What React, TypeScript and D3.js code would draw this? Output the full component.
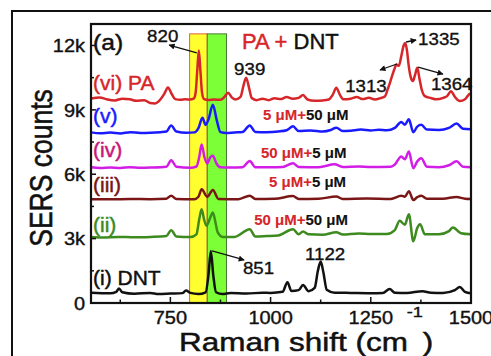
import React from "react";
import * as d3 from "d3";

const W = 491;
const H = 356;
const PLOT = { left: 91, top: 24, right: 471, bottom: 303 };

const xDomain = [552, 1500];
const yDomain = [0, 13000];
const xTicks = [750, 1000, 1250, 1500];
const xMinorTicks = [625, 875, 1125, 1375];
const yTicks = [0, 3000, 6000, 9000, 12000];
const yTickLabels = ["0", "3k", "6k", "9k", "12k"];
const yMinorTicks = [1500, 4500, 7500, 10500];

const bandPA = [798, 842];
const bandDNT = [842, 890];
const bandTop = 12540;

const seriesPA: [number, number][] = [
  [552, 9530], [574, 9580], [590, 9500], [612, 9440], [630, 9520], [649, 9490], [665, 9420],
  [685, 9450], [699, 9320], [712, 9300], [725, 9480], [735, 9750], [744, 10040], [753, 9750],
  [762, 9500], [775, 9470], [787, 9490], [799, 9480], [808, 9520], [813, 9800], [817, 10800],
  [821, 11760], [825, 10800], [829, 9800], [834, 9500], [845, 9460], [860, 9480], [875, 9470],
  [885, 9600], [894, 9800], [903, 9580], [912, 9480], [925, 9600], [932, 10100], [939, 10500],
  [946, 10050], [953, 9550], [965, 9450], [980, 9520], [995, 9450], [1010, 9540], [1025, 9500],
  [1040, 9600], [1055, 9520], [1070, 9560], [1081, 9690], [1092, 9480], [1110, 9420], [1130, 9440],
  [1145, 9480], [1155, 9700], [1164, 10030], [1173, 9700], [1182, 9490], [1200, 9520], [1215, 9600],
  [1230, 9500], [1245, 9560], [1260, 9480], [1275, 9550], [1285, 9620], [1293, 10000], [1302, 10510],
  [1309, 10900], [1314, 11110], [1320, 11050], [1326, 11500], [1332, 12000], [1336, 12120],
  [1340, 11800], [1345, 11000], [1350, 10500], [1355, 10340], [1360, 10600], [1366, 10960],
  [1371, 10500], [1377, 9950], [1385, 9640], [1400, 9550], [1413, 9490], [1431, 9560], [1441, 9650],
  [1450, 9870], [1460, 9600], [1472, 9410], [1485, 9490], [1492, 9650], [1497, 9750], [1500, 9700],
];

const seriesV: [number, number][] = [
  [552, 7950], [575, 7910], [600, 7940], [625, 7900], [650, 7960], [675, 7920], [700, 7930],
  [725, 7960], [740, 7990], [752, 8270], [765, 7990], [790, 7930], [810, 7950], [820, 8150],
  [830, 8630], [838, 8300], [845, 8550], [856, 9240], [866, 8500], [875, 7960], [890, 7920],
  [910, 7950], [930, 7970], [948, 8270], [962, 7970], [990, 7960], [1019, 7990], [1040, 8050],
  [1056, 8230], [1070, 8010], [1100, 8040], [1130, 7990], [1150, 8060], [1164, 8170], [1180, 8010],
  [1200, 8030], [1225, 8080], [1250, 8040], [1270, 8070], [1290, 8050], [1310, 8160], [1326, 8430],
  [1335, 8310], [1345, 8560], [1356, 7960], [1366, 8220], [1376, 8300], [1390, 8080], [1420, 8060],
  [1445, 8160], [1464, 8360], [1480, 8120], [1500, 8100],
];

const seriesIV: [number, number][] = [
  [552, 6320], [575, 6290], [600, 6310], [625, 6290], [650, 6330], [675, 6300], [700, 6310],
  [740, 6350], [752, 6650], [765, 6350], [800, 6300], [815, 6360], [822, 6800], [828, 7390],
  [835, 6800], [842, 6500], [850, 6800], [856, 6860], [865, 6500], [875, 6320], [900, 6310],
  [930, 6330], [948, 6620], [962, 6330], [1000, 6320], [1030, 6340], [1056, 6510], [1070, 6340],
  [1120, 6330], [1160, 6460], [1180, 6340], [1220, 6360], [1250, 6340], [1300, 6350], [1310, 6450],
  [1326, 6830], [1335, 6700], [1345, 7060], [1356, 6280], [1366, 6600], [1376, 6740], [1390, 6350],
  [1420, 6330], [1445, 6420], [1464, 6600], [1480, 6350], [1500, 6330],
];

const seriesIII: [number, number][] = [
  [552, 4840], [600, 4830], [650, 4850], [700, 4840], [740, 4860], [752, 5000], [765, 4850],
  [810, 4840], [820, 4950], [828, 5300], [842, 4950], [856, 5260], [870, 4850], [920, 4840],
  [948, 5000], [962, 4850], [1010, 4860], [1056, 4980], [1070, 4850], [1120, 4860], [1164, 4960],
  [1180, 4850], [1240, 4870], [1300, 4850], [1326, 5000], [1335, 4950], [1345, 5210], [1356, 4800],
  [1366, 4930], [1376, 5000], [1390, 4860], [1430, 4860], [1464, 4940], [1485, 4860], [1500, 4850],
];

const seriesII: [number, number][] = [
  [552, 3070], [580, 3050], [620, 3080], [660, 3060], [700, 3080], [740, 3120], [752, 3390],
  [765, 3100], [800, 3070], [815, 3200], [822, 3900], [828, 4370], [834, 3900], [840, 3600],
  [848, 3900], [856, 4220], [862, 3800], [868, 3300], [880, 3080], [910, 3080], [948, 3440],
  [962, 3100], [990, 3120], [1019, 3150], [1056, 3440], [1070, 3200], [1081, 3330], [1095, 3200],
  [1130, 3180], [1164, 3300], [1180, 3190], [1220, 3240], [1250, 3220], [1290, 3220], [1310, 3400],
  [1322, 3830], [1335, 3650], [1345, 4140], [1356, 2880], [1366, 3500], [1373, 3670], [1385, 3200],
  [1420, 3200], [1445, 3350], [1455, 3520], [1475, 3250], [1500, 3200],
];

const seriesDNT: [number, number][] = [
  [552, 480], [580, 460], [600, 450], [615, 520], [622, 680], [630, 500], [660, 430], [700, 470],
  [720, 420], [750, 440], [780, 460], [789, 580], [800, 470], [820, 420], [838, 500], [845, 1300],
  [851, 2420], [857, 1300], [864, 500], [880, 420], [900, 470], [940, 440], [980, 480], [1000, 470],
  [1030, 520], [1042, 970], [1052, 560], [1070, 600], [1081, 840], [1095, 550], [1110, 700],
  [1118, 1500], [1125, 1930], [1132, 1400], [1140, 620], [1160, 480], [1200, 470], [1250, 460],
  [1280, 470], [1297, 650], [1310, 480], [1340, 470], [1379, 550], [1400, 480], [1430, 470],
  [1460, 600], [1472, 750], [1485, 520], [1500, 450],
];

const seriesList = [
  { name: "PA", data: seriesPA, color: "#d6262a" },
  { name: "v", data: seriesV, color: "#1a1aff" },
  { name: "iv", data: seriesIV, color: "#d21de6" },
  { name: "iii", data: seriesIII, color: "#7a1616" },
  { name: "ii", data: seriesII, color: "#3d8a1f" },
  { name: "DNT", data: seriesDNT, color: "#111111" },
];

const seriesLabels = [
  { text: "(vi) PA", x: 557, y: 9925, color: "#d6262a" },
  { text: "(v)", x: 557, y: 8389, color: "#1a1aff" },
  { text: "(iv)", x: 557, y: 6804, color: "#c8177a" },
  { text: "(iii)", x: 557, y: 5173, color: "#7a1616" },
  { text: "(ii)", x: 557, y: 3309, color: "#3d8a1f" },
  { text: "(i) DNT", x: 557, y: 838, color: "#111111" },
];

const concLabels = [
  { a: "5 μM+", b: "50 μM", x: 981, y: 8528 },
  { a: "50 μM+", b: "5 μM", x: 976, y: 6757 },
  { a: "5 μM+", b: "5 μM", x: 996, y: 5405 },
  { a: "50 μM+", b: "50 μM", x: 959, y: 3634 },
];

const peakLabels = [
  { text: "820", x: 692, y: 12161 },
  { text: "939", x: 909, y: 10624 },
  { text: "1335", x: 1368, y: 12021 },
  { text: "1313", x: 1186, y: 9831 },
  { text: "1364", x: 1400, y: 9925 },
  { text: "851", x: 931, y: 1351 },
  { text: "1122", x: 1086, y: 2004 },
];

const peakArrows = [
  { x1: 816, y1: 11649, x2: 747, y2: 12021 },
  { x1: 1338, y1: 12161, x2: 1363, y2: 12254 },
  { x1: 1315, y1: 11136, x2: 1273, y2: 10857 },
  { x1: 1368, y1: 10996, x2: 1430, y2: 10670 },
  { x1: 854, y1: 2423, x2: 934, y2: 2004 },
];

const FONT = "'Liberation Sans', Arial, Helvetica, sans-serif";
const SX = 1.17;
const RED = "#d6262a";
const INK = "#111111";

export default function App() {
  const x = d3.scaleLinear().domain(xDomain).range([PLOT.left, PLOT.right]);
  const y = d3.scaleLinear().domain(yDomain).range([PLOT.bottom, PLOT.top]);
  const line = d3
    .line<[number, number]>()
    .x((d) => x(d[0]))
    .y((d) => y(d[1]))
    .curve(d3.curveMonotoneX);

  const st = (px: number, py: number, sx = SX) => `translate(${px},${py}) scale(${sx},1)`;
  const heavy = (c: string, w = 0.45) => ({ fill: c, stroke: c, strokeWidth: w });

  return (
    <svg width={W} height={H} viewBox={`0 0 ${W} ${H}`} style={{ position: "absolute", left: 0, top: 0, background: "#fff" }}>
      <defs>
        <marker id="ah" viewBox="0 0 10 10" refX="9" refY="5" markerWidth="7" markerHeight="6" orient="auto" markerUnits="userSpaceOnUse">
          <path d="M0,0 L10,5 L0,10 z" fill={INK} />
        </marker>
      </defs>
      <rect x={0} y={0} width={W} height={H} fill="#fff" />
      <rect x={12} y={11} width={520} height={400} fill="none" stroke={INK} strokeWidth={2} />

      <rect x={x(bandPA[0])} y={y(bandTop)} width={x(bandPA[1]) - x(bandPA[0])} height={PLOT.bottom - y(bandTop)} fill="#ffff30" stroke="#e0603a" strokeWidth={1} />
      <rect x={x(bandDNT[0])} y={y(bandTop)} width={x(bandDNT[1]) - x(bandDNT[0])} height={PLOT.bottom - y(bandTop)} fill="#7cff36" stroke="#4a7a3a" strokeWidth={1} />

      {seriesList.map((s) => (
        <path key={s.name} d={line(s.data) || ""} fill="none" stroke={s.color} strokeWidth={2.5} strokeLinejoin="round" />
      ))}

      <rect x={PLOT.left} y={PLOT.top} width={PLOT.right - PLOT.left} height={PLOT.bottom - PLOT.top} fill="none" stroke={INK} strokeWidth={2.2} />

      {xTicks.map((t) => (
        <line key={"xt" + t} x1={x(t)} x2={x(t)} y1={PLOT.bottom} y2={PLOT.bottom - 6} stroke={INK} strokeWidth={1.5} />
      ))}
      {xMinorTicks.map((t) => (
        <line key={"xm" + t} x1={x(t)} x2={x(t)} y1={PLOT.bottom} y2={PLOT.bottom - 3.5} stroke={INK} strokeWidth={1.5} />
      ))}
      {yTicks.map((t) => (
        <line key={"yt" + t} x1={PLOT.left} x2={PLOT.left + 5} y1={y(t)} y2={y(t)} stroke={INK} strokeWidth={1.5} />
      ))}
      {yMinorTicks.map((t) => (
        <line key={"ym" + t} x1={PLOT.left} x2={PLOT.left + 3} y1={y(t)} y2={y(t)} stroke={INK} strokeWidth={1.5} />
      ))}

      {yTicks.map((t, i) => (
        <text key={"yl" + t} transform={st(85, y(t) + 6.8, 1.05)} textAnchor="end" fontFamily={FONT} fontSize={19} {...heavy(INK, 0.4)}>
          {yTickLabels[i]}
        </text>
      ))}
      {xTicks.map((t) => (
        <text key={"xl" + t} transform={st(x(t), 324, 1.05)} textAnchor="middle" fontFamily={FONT} fontSize={19} {...heavy(INK, 0.4)}>
          {t}
        </text>
      ))}

      <text transform={`translate(52,168) scale(${SX},1) rotate(-90)`} textAnchor="middle" fontFamily={FONT} fontSize={26.5} {...heavy(INK, 0.5)}>
        SERS counts
      </text>
      <text transform={st(179, 351, 1.21)} fontFamily={FONT} fontSize={26}>
        <tspan {...heavy(INK, 0.5)}>Raman shift (cm</tspan>
        <tspan dx={-1} dy={-34} fontSize={15} {...heavy(INK, 0.4)}>-1</tspan>
        <tspan dx={0} dy={34} {...heavy(INK, 0.5)}>)</tspan>
      </text>

      <text transform={st(x(557), y(11788), 1.12)} fontFamily={FONT} fontSize={22} {...heavy(INK, 0.45)}>(a)</text>
      <text transform={st(242, 49, 1.0)} fontFamily={FONT} fontSize={22}>
        <tspan {...heavy(RED, 0.45)}>PA + </tspan>
        <tspan {...heavy(INK, 0.45)}>DNT</tspan>
      </text>

      {seriesLabels.map((l) => (
        <text key={l.text} transform={st(x(l.x), y(l.y), 1.05)} fontFamily={FONT} fontSize={20} {...heavy(l.color, 0.45)}>
          {l.text}
        </text>
      ))}

      {concLabels.map((l, i) => (
        <text key={"c" + i} transform={st(x(l.x), y(l.y), 1.0)} fontFamily={FONT} fontSize={15} fontWeight="bold">
          <tspan {...heavy(RED, 0.1)}>{l.a}</tspan>
          <tspan {...heavy(INK, 0.1)}>{l.b}</tspan>
        </text>
      ))}

      {peakArrows.map((a, i) => (
        <line key={"a" + i} x1={x(a.x1)} y1={y(a.y1)} x2={x(a.x2)} y2={y(a.y2)} stroke={INK} strokeWidth={1.3} markerEnd="url(#ah)" />
      ))}
      {peakLabels.map((l) => (
        <text key={l.text} transform={st(x(l.x), y(l.y), 1.1)} fontFamily={FONT} fontSize={17} {...heavy(INK, 0.35)}>
          {l.text}
        </text>
      ))}
    </svg>
  );
}
